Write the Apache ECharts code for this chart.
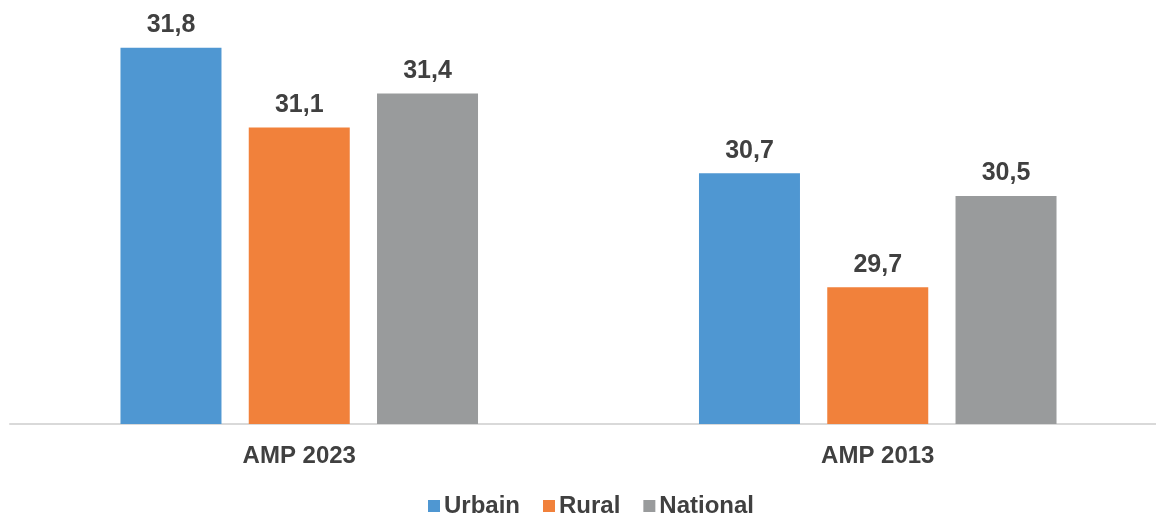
<!DOCTYPE html>
<html>
<head>
<meta charset="utf-8">
<style>
  html, body { margin: 0; padding: 0; background: #fff; }
  #main { width: 1156px; height: 513px; }
</style>
<script src="https://cdn.jsdelivr.net/npm/echarts@6/dist/echarts.min.js"></script>
</head>
<body>
<div id="main"></div>
<script>
var categories = ['AMP 2023', 'AMP 2013'];
var urbain = [31.8, 30.7];
var rural = [31.1, 29.7];
var national = [31.4, 30.5];

var chartDom = document.getElementById('main');
var myChart = echarts.init(chartDom);
var option;

var labelStyle = {
  show: true,
  position: 'top',
  distance: 10,
  color: '#404040',
  fontFamily: 'Liberation Sans',
  fontWeight: 'bold',
  fontSize: 25,
  formatter: function (p) {
    return p.value.toFixed(1).replace('.', ',');
  }
};

option = {
  animation: false,
  textStyle: { fontFamily: 'Liberation Sans' },
  legend: {
    top: 489,
    left: 423,
    itemWidth: 12,
    itemHeight: 12,
    itemGap: 23,
    icon: 'rect',
    textStyle: {
      color: '#404040',
      fontWeight: 'bold',
      fontSize: 24,
      padding: [0, 0, 0, -1]
    },
    data: ['Urbain', 'Rural', 'National']
  },
  grid: {
    left: 10,
    top: 25,
    width: 1157,
    bottom: 89,
    containLabel: false,
    outerBoundsMode: 'none'
  },
  xAxis: {
    type: 'category',
    data: categories,
    axisLine: { lineStyle: { color: '#d9d9d9', width: 2 } },
    axisTick: { show: false },
    axisLabel: {
      margin: 20,
      color: '#404040',
      fontWeight: 'bold',
      fontSize: 24
    }
  },
  yAxis: {
    type: 'value',
    min: 28.5,
    max: 32,
    show: false,
    splitLine: { show: false }
  },
  series: [
    {
      name: 'Urbain',
      type: 'bar',
      barWidth: 101,
      barGap: '27%',
      itemStyle: { color: '#4F97D2' },
      label: labelStyle,
      data: urbain
    },
    {
      name: 'Rural',
      type: 'bar',
      barWidth: 101,
      barGap: '27%',
      itemStyle: { color: '#F1813B' },
      label: labelStyle,
      data: rural
    },
    {
      name: 'National',
      type: 'bar',
      barWidth: 101,
      barGap: '27%',
      itemStyle: { color: '#999B9C' },
      label: labelStyle,
      data: national
    }
  ]
};

option && myChart.setOption(option);
</script>
</body>
</html>
